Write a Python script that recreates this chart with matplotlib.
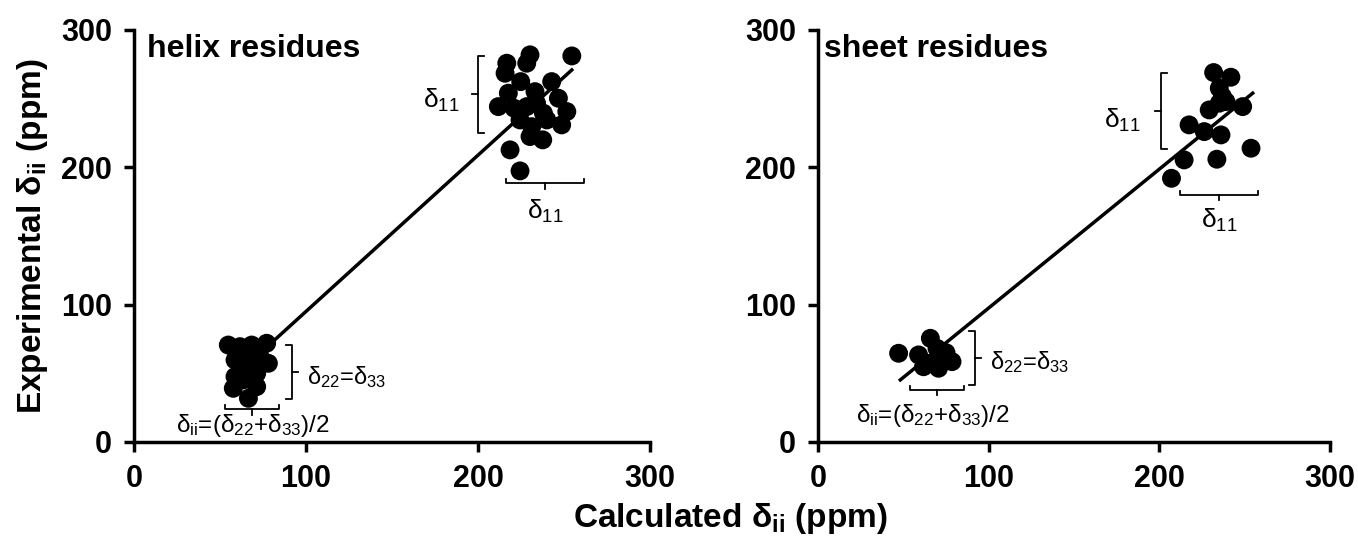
import matplotlib
matplotlib.use('Agg')
import matplotlib.pyplot as plt

plt.rcParams['font.family'] = ['Liberation Sans', 'DejaVu Sans']
plt.rcParams['mathtext.default'] = 'regular'

# helix residues (calculated, experimental)
helix_hi_x = [216.7, 215.7, 230.2, 228.3, 254.5, 224.8, 242.8, 217.6, 211.8, 233.1,
              246.7, 228.3, 251.6, 238.0, 224.4, 231.2, 248.6, 230.2, 237.6, 218.6,
              224.4, 234.0, 240.0, 221.0]
helix_hi_y = [275.8, 268.5, 281.9, 275.8, 281.1, 262.4, 262.4, 254.0, 244.2, 255.1,
              250.3, 244.2, 240.6, 239.4, 234.5, 229.6, 230.9, 222.4, 220.0, 212.7,
              197.4, 246.7, 234.5, 243.0]
helix_lo_x = [54.8, 61.6, 68.4, 77.1, 58.7, 73.3, 78.1, 65.5, 71.3, 58.7, 57.7, 71.3,
              66.5, 63.6, 67.4]
helix_lo_y = [70.6, 69.4, 70.6, 71.9, 59.7, 62.1, 57.3, 54.8, 50.0, 47.6, 39.1, 40.3,
              31.8, 45.2, 62.1]
helix_fit_x = [73.3, 254.5]
helix_fit_y = [64.7, 270.9]

# sheet residues
sheet_hi_x = [231.8, 241.9, 235.1, 237.0, 239.0, 229.2, 235.1, 248.8, 217.4, 226.3,
              236.1, 253.7, 214.5, 233.7, 207.1]
sheet_hi_y = [269.0, 265.6, 257.6, 251.5, 247.9, 241.8, 246.7, 244.2, 230.9, 226.0,
              223.6, 213.9, 205.4, 205.9, 192.0]
sheet_lo_x = [47.2, 65.8, 58.9, 65.8, 73.6, 78.5, 70.6, 61.8, 69.7, 75.0]
sheet_lo_y = [64.6, 75.5, 63.4, 57.3, 62.1, 58.5, 53.7, 54.8, 68.2, 65.0]
sheet_fit_x = [48.2, 254.7]
sheet_fit_y = [45.2, 254.0]

ticks = [0, 100, 200, 300]


def vbracket(ax, x, y0, y1, side):
    # side = -1: stem points left, +1: stem points right
    s = 3.5 * side
    ax.plot([x - s, x, x, x - s], [y0, y0, y1, y1], color='black', lw=1.3)
    ax.plot([x, x + s], [(y0 + y1) / 2] * 2, color='black', lw=1.3)


def hbracket(ax, x0, x1, y):
    ax.plot([x0, x0, x1, x1], [y + 3, y, y, y + 3], color='black', lw=1.3)
    ax.plot([(x0 + x1) / 2] * 2, [y, y - 4], color='black', lw=1.3)


fig = plt.figure(figsize=(13.58, 5.45), dpi=100)
ax1 = fig.add_axes([0.0987, 0.189, 0.380, 0.756])
ax2 = fig.add_axes([0.6024, 0.189, 0.377, 0.756])

panels = [
    (ax1, helix_hi_x + helix_lo_x, helix_hi_y + helix_lo_y, helix_fit_x, helix_fit_y, 'helix residues'),
    (ax2, sheet_hi_x + sheet_lo_x, sheet_hi_y + sheet_lo_y, sheet_fit_x, sheet_fit_y, 'sheet residues'),
]
for ax, xs, ys, fx, fy, name in panels:
    ax.scatter(xs, ys, s=185, color='black', edgecolors='none', zorder=3)
    ax.plot(fx, fy, color='black', lw=2.5, zorder=4)
    ax.set_xlim(0, 300)
    ax.set_ylim(0, 300)
    ax.set_xticks(ticks)
    ax.set_yticks(ticks)
    for sp in ['top', 'right']:
        ax.spines[sp].set_visible(False)
    for sp in ['left', 'bottom']:
        ax.spines[sp].set_linewidth(2.5)
    ax.tick_params(direction='out', length=7, width=2.5, labelsize=22, pad=9)
    for lab in ax.get_xticklabels() + ax.get_yticklabels():
        lab.set_fontweight('bold')
    ax.text(0.025 if ax is ax1 else 0.012, 0.934, name, transform=ax.transAxes,
            fontsize=23, fontweight='bold', va='baseline')

# helix annotations
vbracket(ax1, 200.2, 225, 281.4, -1)
ax1.text(189, 249, r'$\delta_{11}$', fontsize=19, ha='right', va='center')
hbracket(ax1, 216.3, 261.6, 188.4)
ax1.text(239, 168, r'$\delta_{11}$', fontsize=19, ha='center', va='center')
vbracket(ax1, 91.7, 31.1, 70.6, 1)
ax1.text(100.4, 47.6, r'$\delta_{22}$=$\delta_{33}$', fontsize=17, ha='left', va='center')
hbracket(ax1, 52.9, 84.5, 23.8)
ax1.text(68.9, 12, r'$\delta_{ii}$=($\delta_{22}$+$\delta_{33}$)/2', fontsize=17.5,
         ha='center', va='center')

# sheet annotations
vbracket(ax2, 200.8, 213.2, 269, -1)
ax2.text(189, 234, r'$\delta_{11}$', fontsize=19, ha='right', va='center')
hbracket(ax2, 212.2, 258, 179.9)
ax2.text(235, 161, r'$\delta_{11}$', fontsize=19, ha='center', va='center')
vbracket(ax2, 92.2, 41.5, 81.1, 1)
ax2.text(101, 58.5, r'$\delta_{22}$=$\delta_{33}$', fontsize=17, ha='left', va='center')
hbracket(ax2, 53.6, 85.7, 37.9)
ax2.text(67.2, 19, r'$\delta_{ii}$=($\delta_{22}$+$\delta_{33}$)/2', fontsize=17.5,
         ha='center', va='center')

fig.text(0.024, 0.567, r'Experimental $\delta_{ii}$ (ppm)', rotation=90, fontsize=24,
         fontweight='bold', ha='center', va='center')
fig.text(0.538, 0.048, r'Calculated $\delta_{ii}$ (ppm)', fontsize=24,
         fontweight='bold', ha='center', va='center')

fig.savefig('out.png', dpi=100)
